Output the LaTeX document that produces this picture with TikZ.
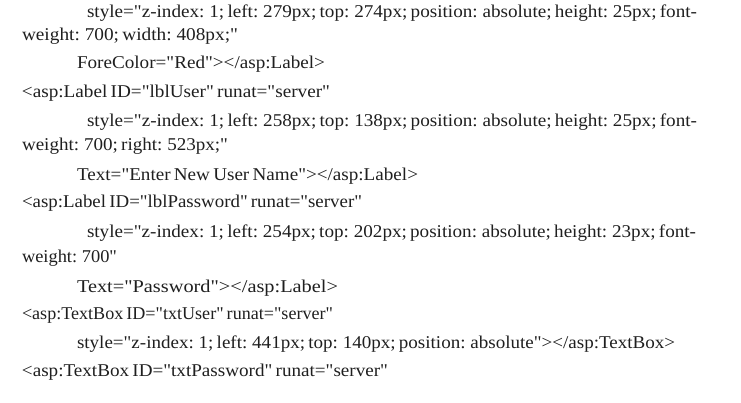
\documentclass[tikz,border=0pt]{standalone}
\usepackage{fontspec}
\usepackage{graphicx}
\setmainfont{Liberation Serif}[Ligatures=TeXOff]
\newcommand{\fitline}[2]{\resizebox{#1bp}{\height}{\spaceskip=0.17em\relax #2}}
\begin{document}
\begin{tikzpicture}[x=1bp,y=-1bp,
  codeline/.style={anchor=base west,inner sep=0pt,outer sep=0pt,text=black!88,font=\fontsize{18bp}{20bp}\selectfont}]
\useasboundingbox[fill=white] (0,0) rectangle (741,402);
\node[codeline] (l1) at (87,17) {\fitline{610}{style="z-index: 1; left: 279px; top: 274px; position: absolute; height: 25px; font-}};
\node[codeline] (l2) at (22,40) {\fitline{216}{weight: 700; width: 408px;"}};
\node[codeline] (l3) at (77,68) {\fitline{248}{ForeColor="Red"></asp:Label>}};
\node[codeline] (l4) at (22,97) {\fitline{308}{<asp:Label ID="lblUser" runat="server"}};
\node[codeline] (l5) at (87,126) {\fitline{610}{style="z-index: 1; left: 258px; top: 138px; position: absolute; height: 25px; font-}};
\node[codeline] (l6) at (22,150) {\fitline{206}{weight: 700; right: 523px;"}};
\node[codeline] (l7) at (77,180) {\fitline{341}{Text="Enter New User Name"></asp:Label>}};
\node[codeline] (l8) at (22,207) {\fitline{340}{<asp:Label ID="lblPassword" runat="server"}};
\node[codeline] (l9) at (87,237) {\fitline{609}{style="z-index: 1; left: 254px; top: 202px; position: absolute; height: 23px; font-}};
\node[codeline] (l10) at (22,262) {\fitline{95}{weight: 700"}};
\node[codeline] (l11) at (77,292) {\fitline{261}{Text="Password"></asp:Label>}};
\node[codeline] (l12) at (22,319) {\fitline{311}{<asp:TextBox ID="txtUser" runat="server"}};
\node[codeline] (l13) at (77,348) {\fitline{598}{style="z-index: 1; left: 441px; top: 140px; position: absolute"></asp:TextBox>}};
\node[codeline] (l14) at (22,376) {\fitline{366}{<asp:TextBox ID="txtPassword" runat="server"}};
\end{tikzpicture}
\end{document}
